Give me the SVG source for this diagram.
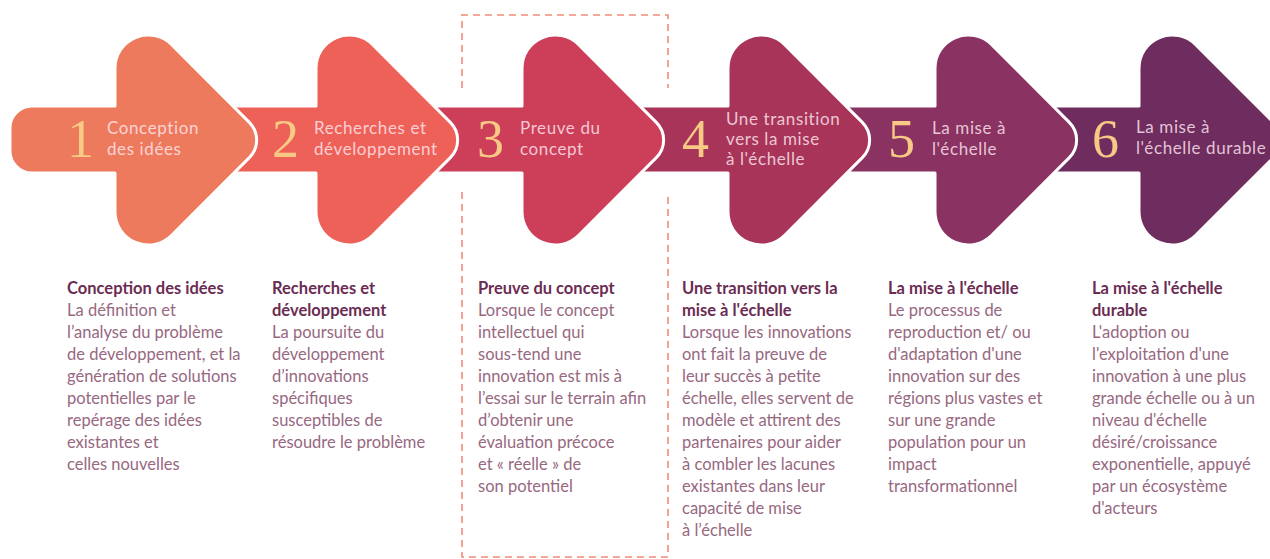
<svg xmlns="http://www.w3.org/2000/svg" width="1270" height="559" viewBox="0 0 1270 559">
<style>
.arrow{stroke:#ffffff;stroke-width:3;stroke-linejoin:round}
.num{font-family:"Liberation Serif","DejaVu Serif",serif;font-size:54px;fill:#F6C985}
.lbl{font-family:Lato,"Open Sans",sans-serif;font-size:17px;letter-spacing:0.6px;fill:#FFE8F0;fill-opacity:0.82}
.ttl{font-family:Lato,"Open Sans",sans-serif;font-size:16.5px;font-weight:bold;fill:#6B2C53}
.body{font-family:Lato,"Open Sans",sans-serif;font-size:16.5px;fill:#97687F}
.dash{fill:none;stroke:#EF8C78;stroke-width:1.6;stroke-dasharray:7 5}
</style>
<rect width="1270" height="559" fill="#ffffff"/>
<g id="connectors">
<path class="dash" d="M462,88 V15 H668 V88"/>
<path class="dash" d="M462,192 V557 H668 V192"/>
</g>
<g id="node6">
<path class="arrow" fill="#6F2C5F" d="M1010,106 H1139 V68.23 A33.23 33.23 0 0 1 1195.73,44.73 L1273.32,122.32 A25 25 0 0 1 1273.32,157.68 L1195.73,235.27 A33.23 33.23 0 0 1 1139,211.77 V173 H1010 Z"/>
<text class="num" x="1092" y="157">6</text>
<text class="lbl" x="1136"><tspan x="1136" y="133">La mise à</tspan><tspan x="1136" y="154">l'échelle durable</tspan></text>
</g>
<g id="node5">
<path class="arrow" fill="#8A3262" d="M805,106 H935 V68.23 A33.23 33.23 0 0 1 991.73,44.73 L1069.32,122.32 A25 25 0 0 1 1069.32,157.68 L991.73,235.27 A33.23 33.23 0 0 1 935,211.77 V173 H805 Z"/>
<text class="num" x="888" y="157">5</text>
<text class="lbl" x="932"><tspan x="932" y="134">La mise à</tspan><tspan x="932" y="155">l'échelle</tspan></text>
</g>
<g id="node4">
<path class="arrow" fill="#A83559" d="M600,106 H728 V68.23 A33.23 33.23 0 0 1 784.73,44.73 L862.32,122.32 A25 25 0 0 1 862.32,157.68 L784.73,235.27 A33.23 33.23 0 0 1 728,211.77 V173 H600 Z"/>
<text class="num" x="682" y="157">4</text>
<text class="lbl" x="726"><tspan x="726" y="125">Une transition</tspan><tspan x="726" y="145">vers la mise</tspan><tspan x="726" y="165">à l'échelle</tspan></text>
</g>
<g id="node3">
<path class="arrow" fill="#CD3E59" d="M395,106 H522 V68.23 A33.23 33.23 0 0 1 578.73,44.73 L656.32,122.32 A25 25 0 0 1 656.32,157.68 L578.73,235.27 A33.23 33.23 0 0 1 522,211.77 V173 H395 Z"/>
<text class="num" x="477" y="157">3</text>
<text class="lbl" x="520"><tspan x="520" y="134">Preuve du</tspan><tspan x="520" y="155">concept</tspan></text>
</g>
<g id="node2">
<path class="arrow" fill="#EE6158" d="M195,106 H316 V68.23 A33.23 33.23 0 0 1 372.73,44.73 L450.32,122.32 A25 25 0 0 1 450.32,157.68 L372.73,235.27 A33.23 33.23 0 0 1 316,211.77 V173 H195 Z"/>
<text class="num" x="272" y="157">2</text>
<text class="lbl" x="314"><tspan x="314" y="134">Recherches et</tspan><tspan x="314" y="155">développement</tspan></text>
</g>
<g id="node1">
<path class="arrow" fill="#ED7A5D" d="M32,106 H115 V68.23 A33.23 33.23 0 0 1 171.73,44.73 L249.32,122.32 A25 25 0 0 1 249.32,157.68 L171.73,235.27 A33.23 33.23 0 0 1 115,211.77 V173 H32 A22 22 0 0 1 10,151 V128 A22 22 0 0 1 32,106 Z"/>
<text class="num" x="67" y="157">1</text>
<text class="lbl" x="107"><tspan x="107" y="134">Conception</tspan><tspan x="107" y="155">des idées</tspan></text>
</g>
<g id="desc1">
<text class="ttl" x="67" y="293.5">Conception des idées</text>
<text class="body"><tspan x="67" y="315.5">La définition et</tspan><tspan x="67" y="337.5">l’analyse du problème</tspan><tspan x="67" y="359.5">de développement, et la</tspan><tspan x="67" y="381.5">génération de solutions</tspan><tspan x="67" y="403.5">potentielles par le</tspan><tspan x="67" y="425.5">repérage des idées</tspan><tspan x="67" y="447.5">existantes et</tspan><tspan x="67" y="469.5">celles nouvelles</tspan></text>
</g>
<g id="desc2">
<text class="ttl"><tspan x="272" y="293.5">Recherches et</tspan><tspan x="272" y="315.5">développement</tspan></text>
<text class="body"><tspan x="272" y="337.5">La poursuite du</tspan><tspan x="272" y="359.5">développement</tspan><tspan x="272" y="381.5">d’innovations</tspan><tspan x="272" y="403.5">spécifiques</tspan><tspan x="272" y="425.5">susceptibles de</tspan><tspan x="272" y="447.5">résoudre le problème</tspan></text>
</g>
<g id="desc3">
<text class="ttl" x="478" y="293.5">Preuve du concept</text>
<text class="body"><tspan x="478" y="315.5">Lorsque le concept</tspan><tspan x="478" y="337.5">intellectuel qui</tspan><tspan x="478" y="359.5">sous-tend une</tspan><tspan x="478" y="381.5">innovation est mis à</tspan><tspan x="478" y="403.5">l’essai sur le terrain afin</tspan><tspan x="478" y="425.5">d’obtenir une</tspan><tspan x="478" y="447.5">évaluation précoce</tspan><tspan x="478" y="469.5">et « réelle » de</tspan><tspan x="478" y="491.5">son potentiel</tspan></text>
</g>
<g id="desc4">
<text class="ttl"><tspan x="682" y="293.5">Une transition vers la</tspan><tspan x="682" y="315.5">mise à l'échelle</tspan></text>
<text class="body"><tspan x="682" y="337.5">Lorsque les innovations</tspan><tspan x="682" y="359.5">ont fait la preuve de</tspan><tspan x="682" y="381.5">leur succès à petite</tspan><tspan x="682" y="403.5">échelle, elles servent de</tspan><tspan x="682" y="425.5">modèle et attirent des</tspan><tspan x="682" y="447.5">partenaires pour aider</tspan><tspan x="682" y="469.5">à combler les lacunes</tspan><tspan x="682" y="491.5">existantes dans leur</tspan><tspan x="682" y="513.5">capacité de mise</tspan><tspan x="682" y="535.5">à l’échelle</tspan></text>
</g>
<g id="desc5">
<text class="ttl" x="888" y="293.5">La mise à l'échelle</text>
<text class="body"><tspan x="888" y="315.5">Le processus de</tspan><tspan x="888" y="337.5">reproduction et/ ou</tspan><tspan x="888" y="359.5">d'adaptation d'une</tspan><tspan x="888" y="381.5">innovation sur des</tspan><tspan x="888" y="403.5">régions plus vastes et</tspan><tspan x="888" y="425.5">sur une grande</tspan><tspan x="888" y="447.5">population pour un</tspan><tspan x="888" y="469.5">impact</tspan><tspan x="888" y="491.5">transformationnel</tspan></text>
</g>
<g id="desc6">
<text class="ttl"><tspan x="1092" y="293.5">La mise à l'échelle</tspan><tspan x="1092" y="315.5">durable</tspan></text>
<text class="body"><tspan x="1092" y="337.5">L'adoption ou</tspan><tspan x="1092" y="359.5">l'exploitation d'une</tspan><tspan x="1092" y="381.5">innovation à une plus</tspan><tspan x="1092" y="403.5">grande échelle ou à un</tspan><tspan x="1092" y="425.5">niveau d'échelle</tspan><tspan x="1092" y="447.5">désiré/croissance</tspan><tspan x="1092" y="469.5">exponentielle, appuyé</tspan><tspan x="1092" y="491.5">par un écosystème</tspan><tspan x="1092" y="513.5">d'acteurs</tspan></text>
</g>
</svg>
